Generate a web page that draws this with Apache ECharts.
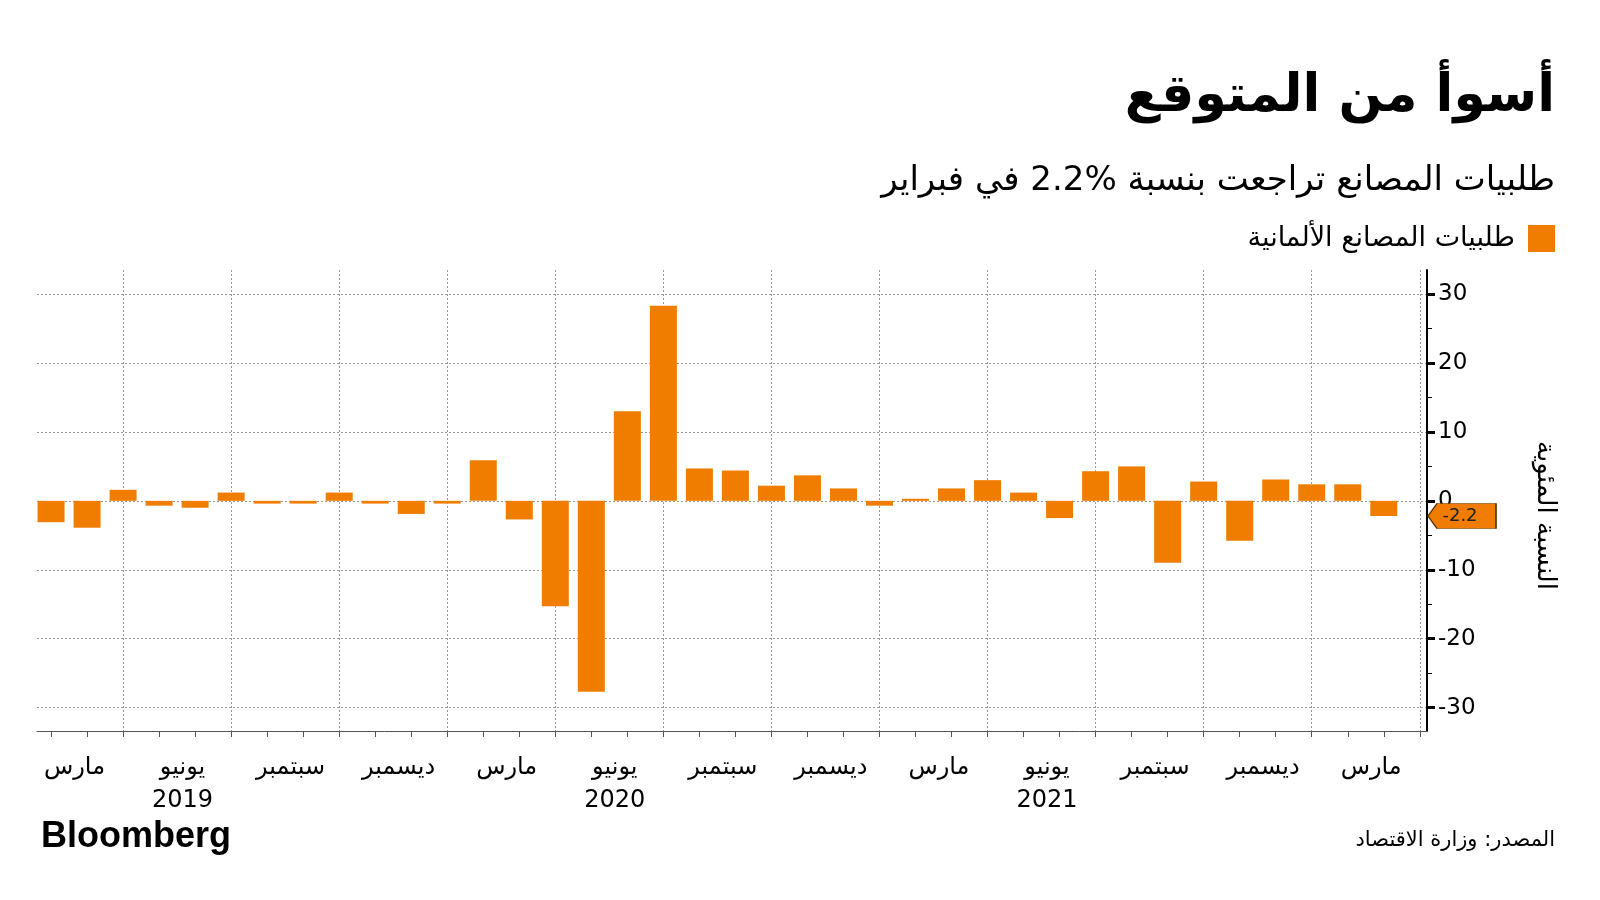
<!DOCTYPE html>
<html><head><meta charset="utf-8">
<script src="https://cdn.jsdelivr.net/npm/echarts@6/dist/echarts.min.js"></script>
<style>html,body{margin:0;padding:0;background:#fff}#c{width:1600px;height:900px}</style>
</head><body><div id="c"></div>
<script>
// Monthly German factory orders, % change m/m, Jan 2019 .. Feb 2022
const months = ['2019-01','2019-02','2019-03','2019-04','2019-05','2019-06','2019-07','2019-08','2019-09','2019-10','2019-11','2019-12',
  '2020-01','2020-02','2020-03','2020-04','2020-05','2020-06','2020-07','2020-08','2020-09','2020-10','2020-11','2020-12',
  '2021-01','2021-02','2021-03','2021-04','2021-05','2021-06','2021-07','2021-08','2021-09','2021-10','2021-11','2021-12',
  '2022-01','2022-02'];
const values = [-3.1,-3.9,1.6,-0.7,-1.0,1.2,-0.4,-0.4,1.2,-0.4,-1.9,-0.4,
  5.9,-2.7,-15.3,-27.7,13.0,28.3,4.7,4.4,2.2,3.7,1.8,-0.7,
  0.3,1.8,3.0,1.2,-2.5,4.3,5.0,-9.0,2.8,-5.8,3.1,2.4,
  2.4,-2.2];
// quarter ticks (month index of Mar/Jun/Sep/Dec) and their labels
const quarterTicks = [2,5,8,11,14,17,20,23,26,29,32,35,38];
const tickLabels = ['مارس','يونيو\n2019','سبتمبر','ديسمبر','مارس','يونيو\n2020','سبتمبر','ديسمبر','مارس','يونيو\n2021','سبتمبر','ديسمبر','مارس'];
const yTicks = [-30,-20,-10,0,10,20,30];
const yMinorTicks = [-25,-15,-5,5,15,25];
const lastValue = -2.2;

const titleText = 'أسوأ من المتوقع';
const subtitleText = 'طلبيات المصانع تراجعت بنسبة %2.2 في فبراير';
const seriesName = 'طلبيات المصانع الألمانية';
const yName = 'النسبة المئوية';
const sourceText = 'المصدر: وزارة الاقتصاد';

const ORANGE = '#f07d00';
const AR = '"DejaVu Sans", sans-serif';
const LAT = '"Liberation Sans", Arial, sans-serif';
const NUM = '"DejaVu Sans", sans-serif';
const X_MIN = -0.39, X_MAX = 38.2, Y_MIN = -33.4, Y_MAX = 33.5;
const LABEL_SHIFT = -1.35;
const labelPos = quarterTicks.map(t => +(t + LABEL_SHIFT).toFixed(2));
const monthTicks = months.map((m, i) => i).concat([months.length]);
const gridRect = {left: 37, right: 173, top: 270, bottom: 169, containLabel: false};

const chart = echarts.init(document.getElementById('c'), null, {renderer: 'canvas'});
chart.setOption({
  backgroundColor: '#fff',
  animation: false,
  title: [
    {text: titleText, right: 40, top: 66, textStyle: {fontFamily: AR, fontSize: 52, fontWeight: 'bold', color: '#000'}},
    {text: subtitleText, right: 40, top: 159, textStyle: {fontFamily: AR, fontSize: 34, fontWeight: 'normal', color: '#000'}},
    {text: sourceText, right: 40, top: 825, textStyle: {fontFamily: AR, fontSize: 21, fontWeight: 'normal', color: '#000'}},
    {text: 'Bloomberg', left: 36, top: 814, textStyle: {fontFamily: LAT, fontSize: 36, fontWeight: 'bold', color: '#000'}}
  ],
  legend: {
    right: 40, top: 220, align: 'right', itemWidth: 27, itemHeight: 27, itemGap: 10,
    icon: 'rect',
    textStyle: {fontFamily: AR, fontSize: 27, color: '#000', padding: [0, 8, 0, 0]},
    data: [seriesName]
  },
  grid: [Object.assign({}, gridRect), Object.assign({}, gridRect)],
  xAxis: [
    {
      type: 'value', gridIndex: 0, min: X_MIN, max: X_MAX,
      axisLine: {show: true, onZero: false, lineStyle: {color: '#555', width: 1}},
      axisTick: {show: true, customValues: monthTicks, length: 6, lineStyle: {color: '#555'}},
      axisLabel: {
        show: true, customValues: labelPos, margin: 20,
        fontFamily: AR, fontSize: 24, color: '#000', lineHeight: 33,
        formatter: v => { const k = quarterTicks.findIndex(t => Math.abs(t + LABEL_SHIFT - v) < 0.01); return k >= 0 ? tickLabels[k] : ''; }
      },
      splitLine: {show: false}
    },
    {
      type: 'value', gridIndex: 1, min: X_MIN, max: X_MAX,
      axisLine: {show: false, onZero: false}, axisLabel: {show: false},
      axisTick: {show: false, customValues: quarterTicks},
      splitLine: {show: true, lineStyle: {color: '#999', type: [2, 2], width: 1}}
    }
  ],
  yAxis: [
    {
      type: 'value', gridIndex: 0, position: 'right', min: Y_MIN, max: Y_MAX,
      name: yName, nameLocation: 'middle', nameRotate: -90, nameGap: 105,
      nameTextStyle: {fontFamily: AR, fontSize: 26, color: '#000', padding: [0, 0, 0, 30]},
      axisLine: {show: true, onZero: false, lineStyle: {color: '#000', width: 2}},
      axisTick: {show: true, customValues: yTicks, length: 8, lineStyle: {color: '#000', width: 3}},
      axisLabel: {show: true, customValues: yTicks, fontFamily: NUM, fontSize: 23, color: '#000', margin: 11},
      splitLine: {show: true, lineStyle: {color: '#999', type: [2, 2], width: 1}}
    },
    {
      type: 'value', gridIndex: 1, position: 'right', min: Y_MIN, max: Y_MAX,
      axisLine: {show: false, onZero: false}, axisLabel: {show: false},
      axisTick: {show: true, customValues: yMinorTicks, length: 5, lineStyle: {color: '#000', width: 1}},
      splitLine: {show: false}
    }
  ],
  series: [{
    name: seriesName, type: 'bar', xAxisIndex: 0, yAxisIndex: 0,
    barWidth: 27, itemStyle: {color: ORANGE},
    data: values.map((v, i) => [i, v]),
    z: 3,
    markPoint: {
      silent: true,
      symbol: 'path://M0,12.5 L9,0 L68,0 L68,25 L9,25 Z',
      symbolSize: [68, 25], symbolKeepAspect: false,
      symbolOffset: [35, 0],
      itemStyle: {color: ORANGE, borderColor: '#5a3000', borderWidth: 1},
      label: {show: true, position: 'inside', offset: [-2, 0], fontFamily: NUM, fontSize: 18, color: '#222',
        formatter: () => String(lastValue)},
      data: [{coord: [X_MAX, lastValue], value: lastValue}]
    }
  }]
});
</script></body></html>
